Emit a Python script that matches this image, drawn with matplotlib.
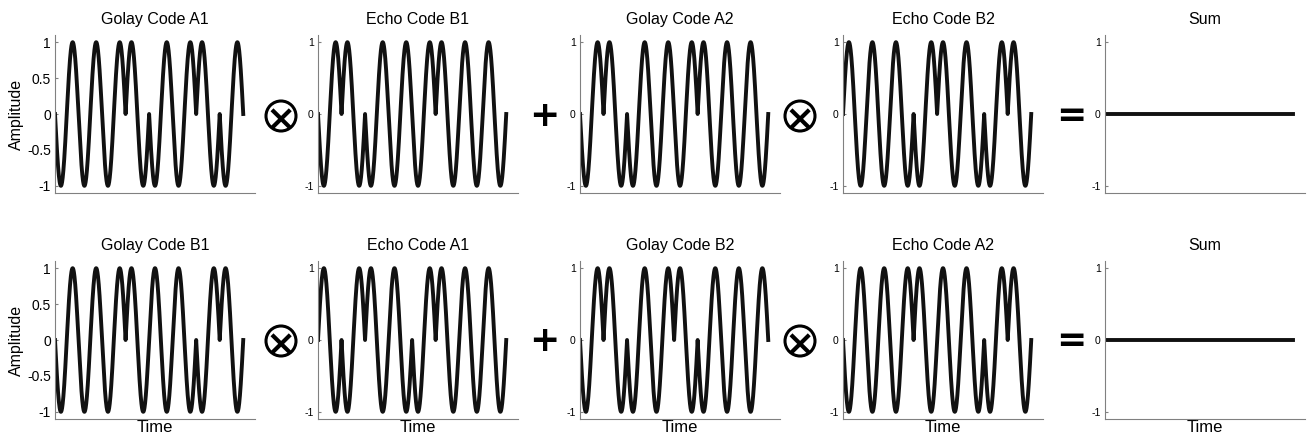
import numpy as np
import matplotlib
matplotlib.use("Agg")
import matplotlib.pyplot as plt
from matplotlib.patches import Ellipse

plt.rcParams['font.family'] = ['Liberation Sans', 'DejaVu Sans']

# chip signs (one sine cycle per chip)
golay_a1 = [-1, -1, -1, 1, -1, -1, 1, -1]
echo_b1  = [-1, 1, -1, -1, -1, 1, 1, 1]
golay_a2 = [-1, 1, -1, -1, -1, 1, 1, 1]
echo_b2  = [1, 1, 1, -1, 1, 1, -1, 1]

golay_b1 = [-1, -1, -1, 1, 1, 1, -1, 1]
echo_a1  = [1, -1, 1, 1, -1, 1, 1, 1]
golay_b2 = [-1, 1, -1, -1, 1, -1, -1, -1]
echo_a2  = [-1, -1, -1, 1, 1, 1, -1, 1]

sum_level = [0, 0]

row_titles = [
    ["Golay Code A1", "Echo Code B1", "Golay Code A2", "Echo Code B2", "Sum"],
    ["Golay Code B1", "Echo Code A1", "Golay Code B2", "Echo Code A2", "Sum"],
]
row_codes = [
    [golay_a1, echo_b1, golay_a2, echo_b2],
    [golay_b1, echo_a1, golay_b2, echo_a2],
]
operators = ["x", "+", "x", "="]


def waveform(code, n=200):
    t = np.linspace(0, 1, n)
    xs, ys = [], []
    for i, c in enumerate(code):
        xs.append(i + t)
        ys.append(c * np.sin(2 * np.pi * t))
    return np.concatenate(xs), np.concatenate(ys)


W, H = 1310, 442
fig = plt.figure(figsize=(W / 100, H / 100), dpi=100)

lefts = [55, 318, 580, 843, 1105]
bottoms = [193, 419]
ax_w, ax_h = 200, 158
op_x = [281, 544, 800, 1071]
op_y = [116, 341]
spine_col = '#808080'

for r in range(2):
    for c in range(5):
        ax = fig.add_axes([lefts[c] / W, (H - bottoms[r]) / H, ax_w / W, ax_h / H])
        n_chips = len(row_codes[r][0])
        if c < 4:
            x, y = waveform(row_codes[r][c])
            ax.plot(x, y, color='#111111', lw=2.8)
        else:
            ax.plot([0, n_chips], sum_level, color='#111111', lw=2.8)
        ax.set_xlim(0, n_chips + 0.5)
        ax.set_ylim(-1.1, 1.1)
        for s in ['top', 'right']:
            ax.spines[s].set_visible(False)
        for s in ['left', 'bottom']:
            ax.spines[s].set_color(spine_col)
            ax.spines[s].set_linewidth(0.8)
        ax.set_xticks([])
        if c == 0:
            ax.set_yticks([-1, -0.5, 0, 0.5, 1])
            ax.set_yticklabels(['-1', '-0.5', '0', '0.5', '1'])
            ax.tick_params(axis='y', labelsize=10, direction='in', length=2,
                           color=spine_col, pad=3)
            ax.set_ylabel("Amplitude", fontsize=11.5, labelpad=2)
        else:
            ax.set_yticks([-1, 0, 1])
            ax.set_yticklabels(['-1', '0', '1'])
            ax.tick_params(axis='y', labelsize=7.5, direction='in', length=2,
                           color=spine_col, pad=3)
        ax.set_title(row_titles[r][c], fontsize=11.5, pad=8)
        if r == 1:
            ax.set_xlabel("Time", fontsize=12, labelpad=1)

    for k, op in enumerate(operators):
        fx, fy = op_x[k] / W, 1 - op_y[r] / H
        if op == "x":
            # circled times sign
            fig.patches.append(Ellipse((fx, fy), 30 / W, 30 / H, fill=False,
                                       lw=2.2, ec='black',
                                       transform=fig.transFigure, figure=fig))
            fig.text(fx, fy, "\u00d7", fontsize=26, family='DejaVu Sans',
                     fontweight='bold', ha='center', va='center_baseline')
        elif op == "+":
            fig.text(fx, fy, op, fontsize=26, family='DejaVu Sans',
                     fontweight='bold', ha='center', va='center')
        else:
            fig.text(fx, fy, op, fontsize=26, family='DejaVu Sans',
                     fontweight='bold', ha='center', va='center')

fig.savefig("out.png", dpi=100)
